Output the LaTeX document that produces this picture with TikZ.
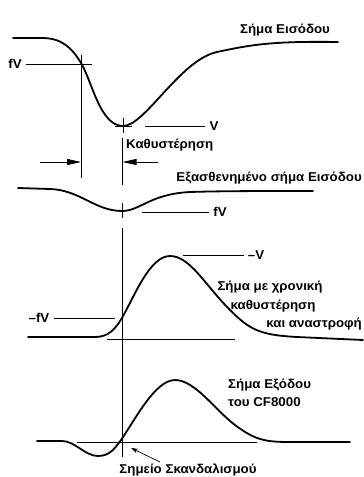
\documentclass[tikz,border=0pt]{standalone}
\usepackage{fontspec}
\setmainfont{Liberation Sans}[BoldFont={Liberation Sans Bold}]
\newfontfamily\lblfont{Liberation Sans Bold}[FakeStretch=1.04]
\usetikzlibrary{arrows.meta,calc}
\begin{document}
\begin{tikzpicture}[x=1pt,y=-1pt,
 sig/.style={line width=1.8pt, line join=round, line cap=round},
 thinline/.style={line width=0.9pt},
 lbl/.style={font=\lblfont\fontsize{12.8}{15}\selectfont, inner sep=0pt},
 dimarrow/.style={thinline, -{Triangle[length=14pt,width=6pt]}},
 ptrarrow/.style={line width=0.7pt, -{Stealth[length=7pt,width=4.5pt]}}]
\useasboundingbox[fill=white] (0,0) rectangle (364,477);

% ---------- Input signal ----------
\draw[sig] (13,38) -- (42,38) .. controls (62,38) and (72,48) .. (81,63)
  .. controls (92,81) and (100,126) .. (123,126)
  .. controls (145,126) and (180,60) .. (217,52)
  .. controls (250,45) and (270,41) .. (338,42);
\node[lbl] (in) at (285,30) {Σήμα Εισόδου};

\node[lbl] (fv1) at (15,64) {fV};
\coordinate (fv1e) at (92,64);
\draw[thinline] ($(fv1.east)+(4,0)$) -- (fv1e);
\coordinate (va) at (81,55);
\coordinate (vb) at (81,178);
\draw[thinline] (va) -- (vb);

\coordinate (m1a) at (123,118);
\coordinate (m1b) at (123,133);
\coordinate (m1c) at (115,126);
\coordinate (m1d) at (132,126);
\draw[thinline] (m1a) -- (m1b) (m1c) -- (m1d);
\node[lbl] (v1) at (214,126) {V};
\coordinate (v1s) at (145,126);
\draw[thinline] (v1s) -- ($(v1.west)+(-4,0)$);

\node[lbl, anchor=west] (delay) at (126,145) {Καθυστέρηση};

% vertical delay line
\coordinate (da) at (122.5,138);
\coordinate (db) at (122.5,185);
\coordinate (dc) at (122.5,203);
\coordinate (dd) at (122.5,218);
\coordinate (de) at (122.5,228);
\coordinate (df) at (122.5,457);
\draw[thinline] (da) -- (db) (dc) -- (dd) (de) -- (df);

% dimension arrows
\coordinate (al) at (40,162);
\coordinate (alt) at (81,162);
\coordinate (ar) at (158,162);
\coordinate (art) at (122.5,162);
\draw[dimarrow] (al) -- (alt);
\draw[dimarrow] (ar) -- (art);

% ---------- Attenuated signal ----------
\draw[sig] (18,188) -- (50,189) .. controls (80,190) and (95,211) .. (122,211)
  .. controls (140,211) and (150,194) .. (190,192)
  .. controls (220,191) and (260,191) .. (313,191);
\node[lbl, anchor=east] (att) at (362,178) {Εξασθενημένο σήμα Εισόδου};
\node[lbl] (fv2) at (220,212) {fV};
\coordinate (fv2s) at (142,212);
\draw[thinline] (fv2s) -- ($(fv2.west)+(-4,0)$);

% ---------- Delayed inverted signal ----------
\draw[sig] (28,337) -- (95,337) .. controls (108,337) and (115,330) .. (122.5,317)
  .. controls (135,295) and (150,256) .. (170,256)
  .. controls (190,256) and (205,285) .. (230,310)
  .. controls (250,330) and (260,335) .. (297,337) -- (363,340);
\coordinate (b3a) at (107,339);
\coordinate (b3b) at (235,339);
\draw[thinline] (b3a) -- (b3b);
\node[lbl] (mfv) at (39,318) {–fV};
\coordinate (mfve) at (115,318);
\draw[thinline] ($(mfv.east)+(4,0)$) -- (mfve);
\node[lbl] (mv) at (256,255) {–V};
\coordinate (mvs) at (183,255);
\draw[thinline] (mvs) -- ($(mv.west)+(-4,0)$);
\node[lbl] (d1) at (270,287) {Σήμα με χρονική};
\node[lbl] (d2) at (273,306) {καθυστέρηση};
\node[lbl, anchor=east] (d3) at (362,324) {και αναστροφή};

% ---------- Output signal ----------
\draw[sig] (37,441) -- (62,441) .. controls (75,441) and (85,456) .. (98,456)
  .. controls (110,456) and (115,448) .. (121,440)
  .. controls (135,420) and (155,380) .. (175,380)
  .. controls (195,380) and (215,410) .. (235,425)
  .. controls (255,440) and (265,442) .. (290,442) -- (350,442);
\coordinate (b4a) at (77,442);
\coordinate (b4b) at (257,442);
\draw[thinline] (b4a) -- (b4b);
\node[lbl, anchor=west] (o1) at (228,385) {Σήμα Εξόδου};
\node[lbl, anchor=west] (o2) at (228,402) {του CF8000};

\node[lbl] (trig) at (188,470) {Σημείο Σκανδαλισμού};
\coordinate (ts) at (160,462);
\coordinate (tt) at (131,448);
\draw[ptrarrow] (ts) -- (tt);
\end{tikzpicture}
\end{document}
